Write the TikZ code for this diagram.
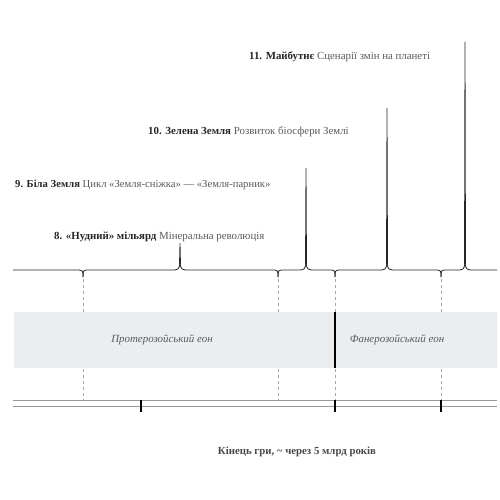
\documentclass[tikz,border=0pt]{standalone}
\usepackage{fontspec}
\setmainfont{Liberation Serif}
\usepackage{tikz}
\usetikzlibrary{positioning,calc}

\definecolor{inkdark}{HTML}{262626}
\definecolor{inkgrey}{HTML}{5A5A5A}
\definecolor{eonfill}{HTML}{EBEDEF}

\begin{document}
\begin{tikzpicture}[
        x=1pt, y=-1pt,
        brace/.style={draw=black!85, line width=0.8pt},
        spike/.style={fill=black!85},
        guide/.style={draw=gray!70, dashed, line width=0.4pt},
        rail/.style={draw=gray!80, line width=0.7pt},
        tick/.style={draw=black, line width=1.4pt},
        label/.style={anchor=west, font=\fontsize{10.85}{13}\selectfont, text=inkgrey, inner sep=0pt},
        eon/.style={font=\fontsize{10.9}{13}\selectfont\itshape, text=inkgrey}
    ]
        \useasboundingbox (0,0) rectangle (500,500);

        % Подiї
        \node[label] (lbl11) at (249,57) {\textbf{\color{inkdark}11. Майбутнє} Сценарії змін на планеті};
        \node[label] (lbl10) at (148,132) {\textbf{\color{inkdark}10. Зелена Земля} Розвиток біосфери Землі};
        \node[label] (lbl9) at (15,185) {\fontsize{10.65}{13}\selectfont\textbf{\color{inkdark}9. Біла Земля} Цикл «Земля-сніжка» — «Земля-парник»};
        \node[label] (lbl8) at (54,237) {\textbf{\color{inkdark}8. «Нудний» мільярд} Мінеральна революція};

        % Допоміжні лінії
        \foreach \x in {83, 278, 335, 441} {
            \draw[guide] (\x,273) -- (\x,400);
        }

        % Дужки
        \draw[brace] (13,270) -- (75,270) .. controls (83,270) .. (83,277);
        \foreach \a/\m/\b/\t in {83/180/278/243, 278/306/335/168, 335/387/441/108} {
            \draw[brace] (\a,277) .. controls (\a,270) .. (\a+7,270) -- (\m-10,270) .. controls (\m-1,270) .. (\m,262);
            \draw[brace] (\b,277) .. controls (\b,270) .. (\b-7,270) -- (\m+10,270) .. controls (\m+1,270) .. (\m,262);
            \fill[spike] (\m-0.9,264) -- (\m-0.4,\t) -- (\m+0.4,\t) -- (\m+0.9,264) -- cycle;
        }
        \draw[brace] (441,277) .. controls (441,270) .. (448,270) -- (455,270) .. controls (464,270) .. (465,262);
        \draw[brace] (497,270) -- (475,270) .. controls (466,270) .. (465,262);
        \fill[spike] (464.1,264) -- (464.6,42) -- (465.4,42) -- (465.9,264) -- cycle;

        % Еони
        \fill[eonfill] (14,312) rectangle (497,368);
        \draw[tick] (335,312) -- (335,368);
        \node[eon] (proterozoic) at (162,340) {Протерозойський еон};
        \node[eon] (phanerozoic) at (397,340) {Фанерозойський еон};

        % Шкала
        \draw[rail] (13,400) -- (497,400);
        \draw[rail] (13,406) -- (497,406);
        \foreach \x in {141, 335, 441} {
            \draw[tick] (\x,400) -- (\x,412);
        }

        \node[font=\fontsize{10.8}{13}\selectfont\bfseries, text=inkgrey!80!black] (gameover) at (297,452) {Кінець гри, \textasciitilde{} через 5 млрд років};
    \end{tikzpicture}
\end{document}
